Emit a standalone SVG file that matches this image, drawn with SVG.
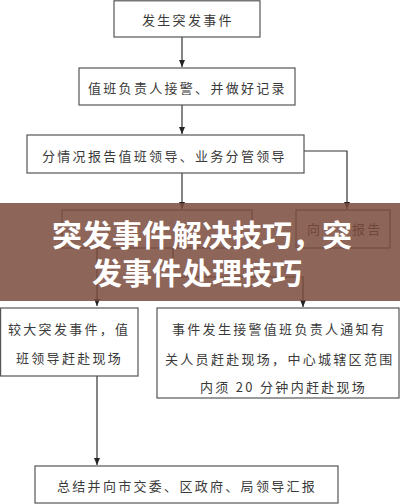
<svg xmlns="http://www.w3.org/2000/svg" width="400" height="504" viewBox="0 0 400 504">
<defs>
<style>
.box{fill:#fff;stroke:#555;stroke-width:1.2}
.t{font-family:"Noto Sans CJK SC","Liberation Serif",serif;font-size:13px;letter-spacing:2.3px;fill:#3a3a3a;dominant-baseline:central}
.c{fill:none;stroke:#333;stroke-width:1.2}
.title{font-family:"Noto Sans CJK SC","Liberation Sans",sans-serif;font-size:30px;font-weight:700;fill:#fff;dominant-baseline:central}
</style>
<marker id="ah" markerWidth="8" markerHeight="8" refX="7" refY="4" orient="auto" markerUnits="userSpaceOnUse">
<path d="M0,1 L7,4 L0,7 Z" fill="#222"/>
</marker>
</defs>
<rect width="400" height="504" fill="#fff"/>
<g id="connectors">
<path class="c" d="M182,37 V67" marker-end="url(#ah)"/>
<path class="c" d="M182,105 V134" marker-end="url(#ah)"/>
<path class="c" d="M182,173 V209" marker-end="url(#ah)"/>
<path class="c" d="M304,151 H347 V209" marker-end="url(#ah)"/>
<path class="c" d="M97,248 V306" marker-end="url(#ah)"/>
<path class="c" d="M173,248 V277 H303 V307" marker-end="url(#ah)"/>
<path class="c" d="M97,376 V465" marker-end="url(#ah)"/>
</g>
<g id="n1"><rect class="box" x="114" y="0.8" width="146" height="36.2"/><text class="t" x="142" y="19">发生突发事件</text></g>
<g id="n2"><rect class="box" x="79" y="68" width="216" height="37"/><text class="t" x="88" y="87">值班负责人接警、并做好记录</text></g>
<g id="n3"><rect class="box" x="27" y="135" width="277" height="38"/><text class="t" x="42" y="155">分情况报告值班领导、业务分管领导</text></g>
<g id="n4"><rect class="box" x="62" y="210" width="190" height="38"/></g>
<g id="n5"><rect class="box" x="296" y="210" width="94" height="38"/><text class="t" x="307" y="228">向</text><text class="t" x="352" y="228">报告</text></g>
<g id="n6"><rect class="box" x="0.6" y="308" width="137.4" height="68"/><text class="t" x="8" y="328">较大突发事件，值</text><text class="t" x="16" y="357">班领导赶赴现场</text></g>
<g id="n7"><rect class="box" x="157" y="308" width="242" height="90"/><text class="t" x="172" y="328">事件发生接警值班负责人通知有</text><text class="t" x="165" y="358">关人员赶赴现场，中心城辖区范围</text><text class="t" x="200" y="386">内须 20 分钟内赶赴现场</text></g>
<g id="n8"><rect class="box" x="35" y="466" width="303" height="37"/><text class="t" x="57" y="485">总结并向市交委、区政府、局领导汇报</text></g>
<g id="banner">
<rect x="0" y="203" width="400" height="98" fill="#7a4a3c" fill-opacity="0.85"/>
<text class="title" x="52" y="233">突发事件解决技巧，突</text>
<text class="title" x="92" y="271">发事件处理技巧</text>
</g>
</svg>
